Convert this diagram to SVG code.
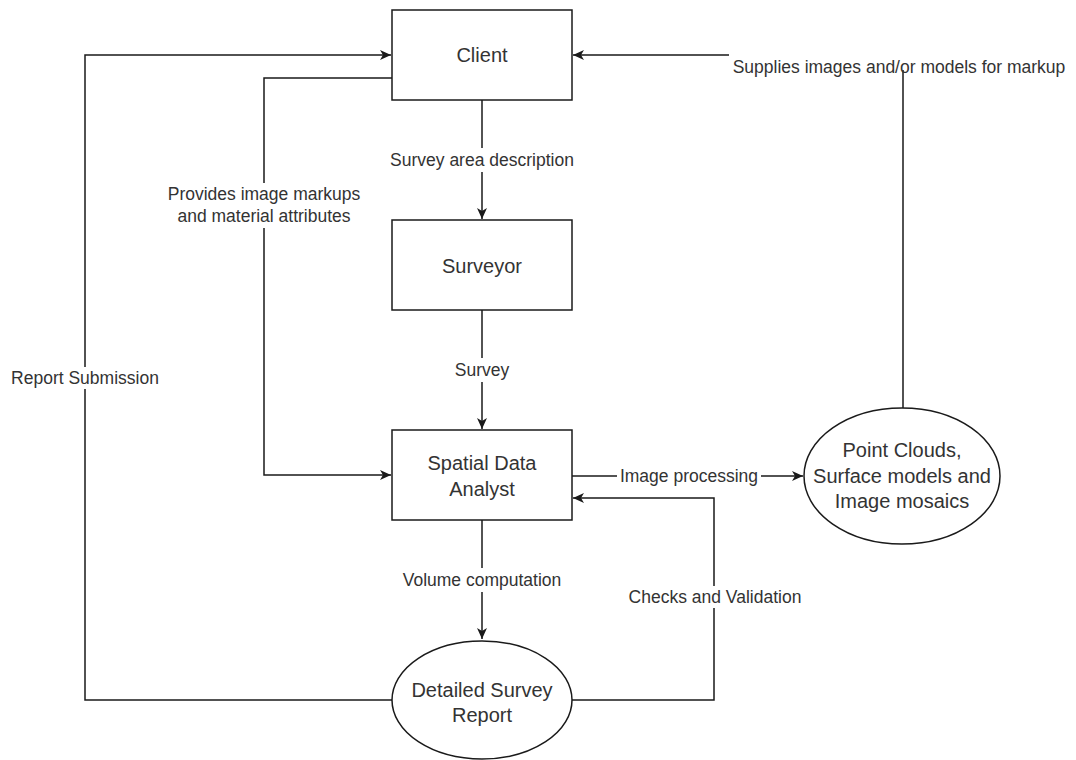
<svg xmlns="http://www.w3.org/2000/svg" width="1076" height="760" viewBox="0 0 1076 760">
<style>
.node{fill:#fff;stroke:#1a1a1a;stroke-width:1.5}
.edge{fill:none;stroke:#1a1a1a;stroke-width:1.5}
.nt{font-family:"Liberation Sans",Arial,sans-serif;font-size:20px;fill:#333;text-anchor:middle}
.lt{font-family:"Liberation Sans",Arial,sans-serif;font-size:17.5px;fill:#333;text-anchor:middle}
.bg{fill:#fff}
</style>
<defs>
<marker id="arr" markerUnits="userSpaceOnUse" markerWidth="12" markerHeight="10" refX="11" refY="5" orient="auto">
<path d="M0,0 L11,5 L0,10 L3,5 Z" fill="#1a1a1a"/>
</marker>
</defs>
<rect width="1076" height="760" fill="#fff"/>
<g id="connectors">
<path class="edge" d="M482,100 V219" marker-end="url(#arr)"/>
<path class="edge" d="M482,310 V429" marker-end="url(#arr)"/>
<path class="edge" d="M482,520 V639" marker-end="url(#arr)"/>
<path class="edge" d="M392,78 H264 V475 H391" marker-end="url(#arr)"/>
<path class="edge" d="M392,700 H85 V55 H391" marker-end="url(#arr)"/>
<path class="edge" d="M903,408 V70 M729,55 H573" marker-end="url(#arr)"/>
<path class="edge" d="M572,476 H803" marker-end="url(#arr)"/>
<path class="edge" d="M572,700 H714 V498 H573" marker-end="url(#arr)"/>
<rect class="bg" x="386" y="148" width="192" height="24"/>
<text class="lt" x="482" y="166">Survey area description</text>
<rect class="bg" x="446" y="358" width="72" height="24"/>
<text class="lt" x="482" y="376">Survey</text>
<rect class="bg" x="398" y="568" width="168" height="24"/>
<text class="lt" x="482" y="586">Volume computation</text>
<rect class="bg" x="164" y="183" width="200" height="45"/>
<text class="lt" x="264" y="200">Provides image markups</text>
<text class="lt" x="264" y="222">and material attributes</text>
<rect class="bg" x="8" y="367" width="154" height="22"/>
<text class="lt" x="85" y="384">Report Submission</text>
<text class="lt" x="899" y="73">Supplies images and/or models for markup</text>
<rect class="bg" x="617" y="465" width="144" height="22"/>
<text class="lt" x="689" y="482">Image processing</text>
<rect class="bg" x="626" y="586" width="178" height="22"/>
<text class="lt" x="715" y="603">Checks and Validation</text>
</g>
<g id="client">
<rect class="node" x="392" y="10" width="180" height="90"/>
<text class="nt" x="482" y="62">Client</text>
</g>
<g id="surveyor">
<rect class="node" x="392" y="220" width="180" height="90"/>
<text class="nt" x="482" y="273">Surveyor</text>
</g>
<g id="analyst">
<rect class="node" x="392" y="430" width="180" height="90"/>
<text class="nt" x="482" y="470">Spatial Data</text>
<text class="nt" x="482" y="496">Analyst</text>
</g>
<g id="report">
<ellipse class="node" cx="482" cy="700" rx="90" ry="59"/>
<text class="nt" x="482" y="697">Detailed Survey</text>
<text class="nt" x="482" y="722">Report</text>
</g>
<g id="pointclouds">
<ellipse class="node" cx="902" cy="476" rx="98" ry="68"/>
<text class="nt" x="902" y="457">Point Clouds,</text>
<text class="nt" x="902" y="483">Surface models and</text>
<text class="nt" x="902" y="508">Image mosaics</text>
</g>
</svg>
